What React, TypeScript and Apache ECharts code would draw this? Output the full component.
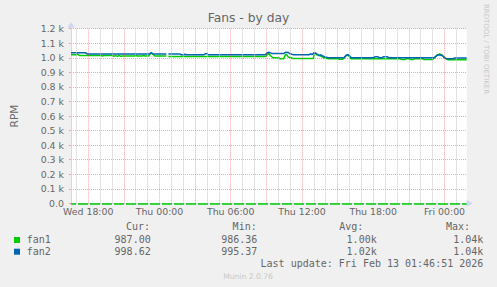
import React, { useEffect, useRef } from 'react';
import * as echarts from 'echarts';

// Time in hours since Wed 00:00
const fan1Times = [16.55, 17.0, 17.1, 17.25, 19.1, 19.18, 19.3, 20.05, 20.15, 20.3, 20.45, 20.6, 20.75, 20.9, 21.9, 22.0, 22.15, 22.55, 22.65, 22.8, 23.1, 23.2, 23.32, 23.45, 23.6, 24.58, 24.66, 24.75, 32.95, 33.05, 33.2, 33.35, 33.55, 34.05, 34.15, 34.45, 34.6, 34.7, 34.85, 35.25, 36.95, 37.08, 37.25, 37.55, 37.85, 38.25, 39.05, 39.15, 39.4, 39.5, 39.6, 39.8, 39.95, 40.1, 44.25, 44.35, 44.7, 44.8, 45.05, 45.15, 45.4, 45.5, 46.15, 46.25, 47.0, 47.15, 47.4, 47.6, 47.85, 48.1, 48.3, 49.87];
const fan1Values = [1021, 1021, 1026, 1016, 1016, 1011, 1016, 1016, 1010, 1015, 1010, 1016, 1010, 1012, 1012, 1016, 1012, 1012, 1016, 1012, 1012, 1024, 1034, 1024, 1012, 1012, null, 1009, 1009, 1020, 1030, 1014, 1000, 1000, 993, 993, 1020, 1024, 1005, 995, 995, 1034, 1021, 1014, 1000, 994, 994, 990, 990, 994, 1005, 1021, 1014, 994, 994, 989, 989, 994, 994, 989, 989, 994, 994, 989, 989, 1000, 1020, 1026, 1016, 994, 987, 987];

const fan2Times = [16.55, 17.8, 17.9, 23.15, 23.3, 23.45, 24.58, 24.66, 24.75, 25.75, 25.85, 26.1, 26.15, 26.25, 27.75, 27.85, 28.0, 28.1, 32.9, 33.05, 33.15, 33.3, 33.45, 34.5, 34.62, 34.85, 35.05, 35.3, 36.6, 36.75, 36.85, 37.0, 37.2, 37.35, 37.45, 37.55, 37.7, 37.9, 38.2, 39.55, 39.7, 39.85, 40.0, 40.15, 42.05, 42.15, 42.4, 42.5, 42.75, 42.85, 43.2, 43.3, 47.15, 47.35, 47.55, 47.8, 48.0, 48.15, 48.75, 48.85, 49.87];
const fan2Values = [1034, 1034, 1026, 1026, 1036, 1026, 1026, null, 1026, 1026, 1021, 1021, 1026, 1021, 1021, 1028, 1028, 1021, 1021, 1032, 1038, 1036, 1030, 1030, 1038, 1036, 1026, 1021, 1021, 1028, 1021, 1034, 1030, 1021, 1014, 1021, 1014, 1007, 1001, 1001, 1016, 1021, 1014, 1001, 1001, 1007, 1007, 1001, 1001, 1007, 1007, 1001, 1001, 1016, 1021, 1016, 1001, 994, 994, 999, 999];

const hourTicks = [17, 19, 20, 22, 23, 25, 26, 28, 29, 31, 32, 34, 35, 37, 38, 40, 41, 43, 44, 46, 47, 49];
const majorTicks = [18, 21, 24, 27, 30, 33, 36, 39, 42, 45, 48];
const labelTicks = [18, 24, 30, 36, 42, 48];
const labelNames = ['Wed 18:00', 'Thu 00:00', 'Thu 06:00', 'Thu 12:00', 'Thu 18:00', 'Fri 00:00'];

const seriesNames = ['fan1', 'fan2'];
const seriesColors = ['#00cc00', '#0066b3'];
const statHeaders = ['Cur:', 'Min:', 'Avg:', 'Max:'];
const statCur = ['987.00', '998.62'];
const statMin = ['986.36', '995.37'];
const statAvg = ['1.00k', '1.02k'];
const statMax = ['1.04k', '1.04k'];
const lastUpdate = 'Last update: Fri Feb 13 01:46:51 2026';

const X_MIN = 16.55;
const X_MAX = 49.87;

export default function App() {
  const ref = useRef<HTMLDivElement>(null);
  useEffect(() => {
    if (!ref.current) return;
    const chart = echarts.init(ref.current, null, { renderer: 'svg' });
    const mono = 'DejaVu Sans Mono';
    const sans = 'DejaVu Sans';
    const fg = '#666666';
    const redGrid = 'rgba(255,40,40,0.42)';
    const greyGrid = '#c8c8c8';
    const headerRight = [150, 256.7, 363.3, 470];
    const valueRight = [156.7, 263.3, 376.7, 483.3];
    const statCols = [statCur, statMin, statAvg, statMax];
    const rowY = [239.8, 251.5];
    const graphics: any[] = [];
    statHeaders.forEach((h, i) => {
      graphics.push({ type: 'text', x: headerRight[i], y: 226.5, style: { text: h, fill: fg, font: `10px "${mono}"`, textAlign: 'right', textVerticalAlign: 'middle' } });
    });
    seriesNames.forEach((n, r) => {
      graphics.push({ type: 'rect', shape: { x: 14, y: rowY[r] - 2.8, width: 6, height: 6 }, style: { fill: seriesColors[r] } });
      graphics.push({ type: 'text', x: 26.7, y: rowY[r], style: { text: n, fill: fg, font: `10px "${mono}"`, textAlign: 'left', textVerticalAlign: 'middle' } });
      statCols.forEach((col, i) => {
        graphics.push({ type: 'text', x: valueRight[i] - (col[r].endsWith('k') ? 0 : 6), y: rowY[r], style: { text: col[r], fill: fg, font: `10px "${mono}"`, textAlign: 'right', textVerticalAlign: 'middle' } });
      });
    });
    graphics.push({ type: 'text', x: 483.3, y: 263.2, style: { text: lastUpdate, fill: fg, font: `10px "${mono}"`, textAlign: 'right', textVerticalAlign: 'middle' } });
    graphics.push({ type: 'text', x: 248, y: 276, style: { text: 'Munin 2.0.76', fill: '#c8c8c8', font: `7.6px "${sans}"`, textAlign: 'center', textVerticalAlign: 'middle' } });
    graphics.push({ type: 'text', x: 486, y: 49, rotation: -Math.PI / 2, style: { text: 'RRDTOOL / TOBI OETIKER', fill: '#c8c8c8', font: `7px "${sans}"`, textAlign: 'center', textVerticalAlign: 'middle' } });

    const makeData = (t: number[], v: (number | null)[]) => t.map((x, i) => [x, v[i]]);
    const gridSeries = (name: string, ticks: number[], color: string) => ({
      name, type: 'line', data: [], z: 1, silent: true,
      markLine: {
        silent: true, symbol: ['none', 'none'], label: { show: false }, animation: false,
        lineStyle: { color, type: [1, 1], width: 1 },
        emphasis: { disabled: true },
        data: ticks.map((t) => ({ xAxis: t })),
      },
    });

    chart.setOption({
      animation: false,
      backgroundColor: '#f0f0f0',
      title: {
        text: 'Fans - by day', left: 'center', top: 12, padding: 0,
        textStyle: { fontSize: 12.3, fontWeight: 'normal', color: fg, fontFamily: sans },
      },
      grid: { left: 67, right: 30.3, top: 28.7, bottom: 83.7, show: true, backgroundColor: '#ffffff', borderWidth: 0 },
      xAxis: {
        type: 'value', min: X_MIN, max: X_MAX, position: 'bottom',
        axisLine: { show: true, lineStyle: { color: '#cfd6f8', width: 1 }, symbol: ['none', 'triangle'], symbolSize: [7, 6], symbolOffset: [0, 3] },
        axisTick: { show: false },
        axisLabel: {
          show: true, customValues: labelTicks, margin: 4, color: fg, fontSize: 9.4, fontFamily: sans,
          formatter: (v: number) => { const i = labelTicks.indexOf(Math.round(v)); return i >= 0 ? labelNames[i] : ''; },
        },
        splitLine: { show: false },
      },
      yAxis: {
        type: 'value', min: 0, max: 1200, interval: 100,
        name: 'RPM', nameLocation: 'middle', nameGap: 52,
        nameTextStyle: { color: fg, fontSize: 10.6, fontFamily: sans },
        axisLine: { show: true, lineStyle: { color: '#cfd6f8', width: 1 }, symbol: ['none', 'triangle'], symbolSize: [7, 6], symbolOffset: [0, 4] },
        axisTick: { show: true, length: 2, lineStyle: { color: redGrid } },
        axisLabel: {
          color: fg, fontSize: 9.4, fontFamily: sans, margin: 7,
          formatter: (v: number) => (v === 0 ? '0.0' : (v / 1000).toFixed(1) + ' k'),
        },
        splitLine: { show: true, lineStyle: { color: redGrid, type: [1, 1], width: 1 } },
      },
      series: [
        gridSeries('minorGrid', hourTicks, greyGrid),
        gridSeries('majorGrid', majorTicks, redGrid),
        {
          name: seriesNames[0], type: 'line', data: makeData(fan1Times, fan1Values), showSymbol: false, symbol: 'none',
          connectNulls: false, lineStyle: { color: seriesColors[0], width: 1.5 }, z: 3,
          markLine: {
            silent: true, symbol: ['none', 'none'], label: { show: false },
            lineStyle: { color: seriesColors[0], type: [10, 2], dashOffset: 5.4, width: 1.5 },
            data: [{ yAxis: 0 }],
          },
        },
        {
          name: seriesNames[1], type: 'line', data: makeData(fan2Times, fan2Values), showSymbol: false, symbol: 'none',
          connectNulls: false, lineStyle: { color: seriesColors[1], width: 1.5 }, z: 4,
        },
      ],
      graphic: graphics,
    });
    return () => chart.dispose();
  }, []);
  return <div ref={ref} style={{ position: 'fixed', left: 0, top: 0, width: 497, height: 287 }} />;
}
